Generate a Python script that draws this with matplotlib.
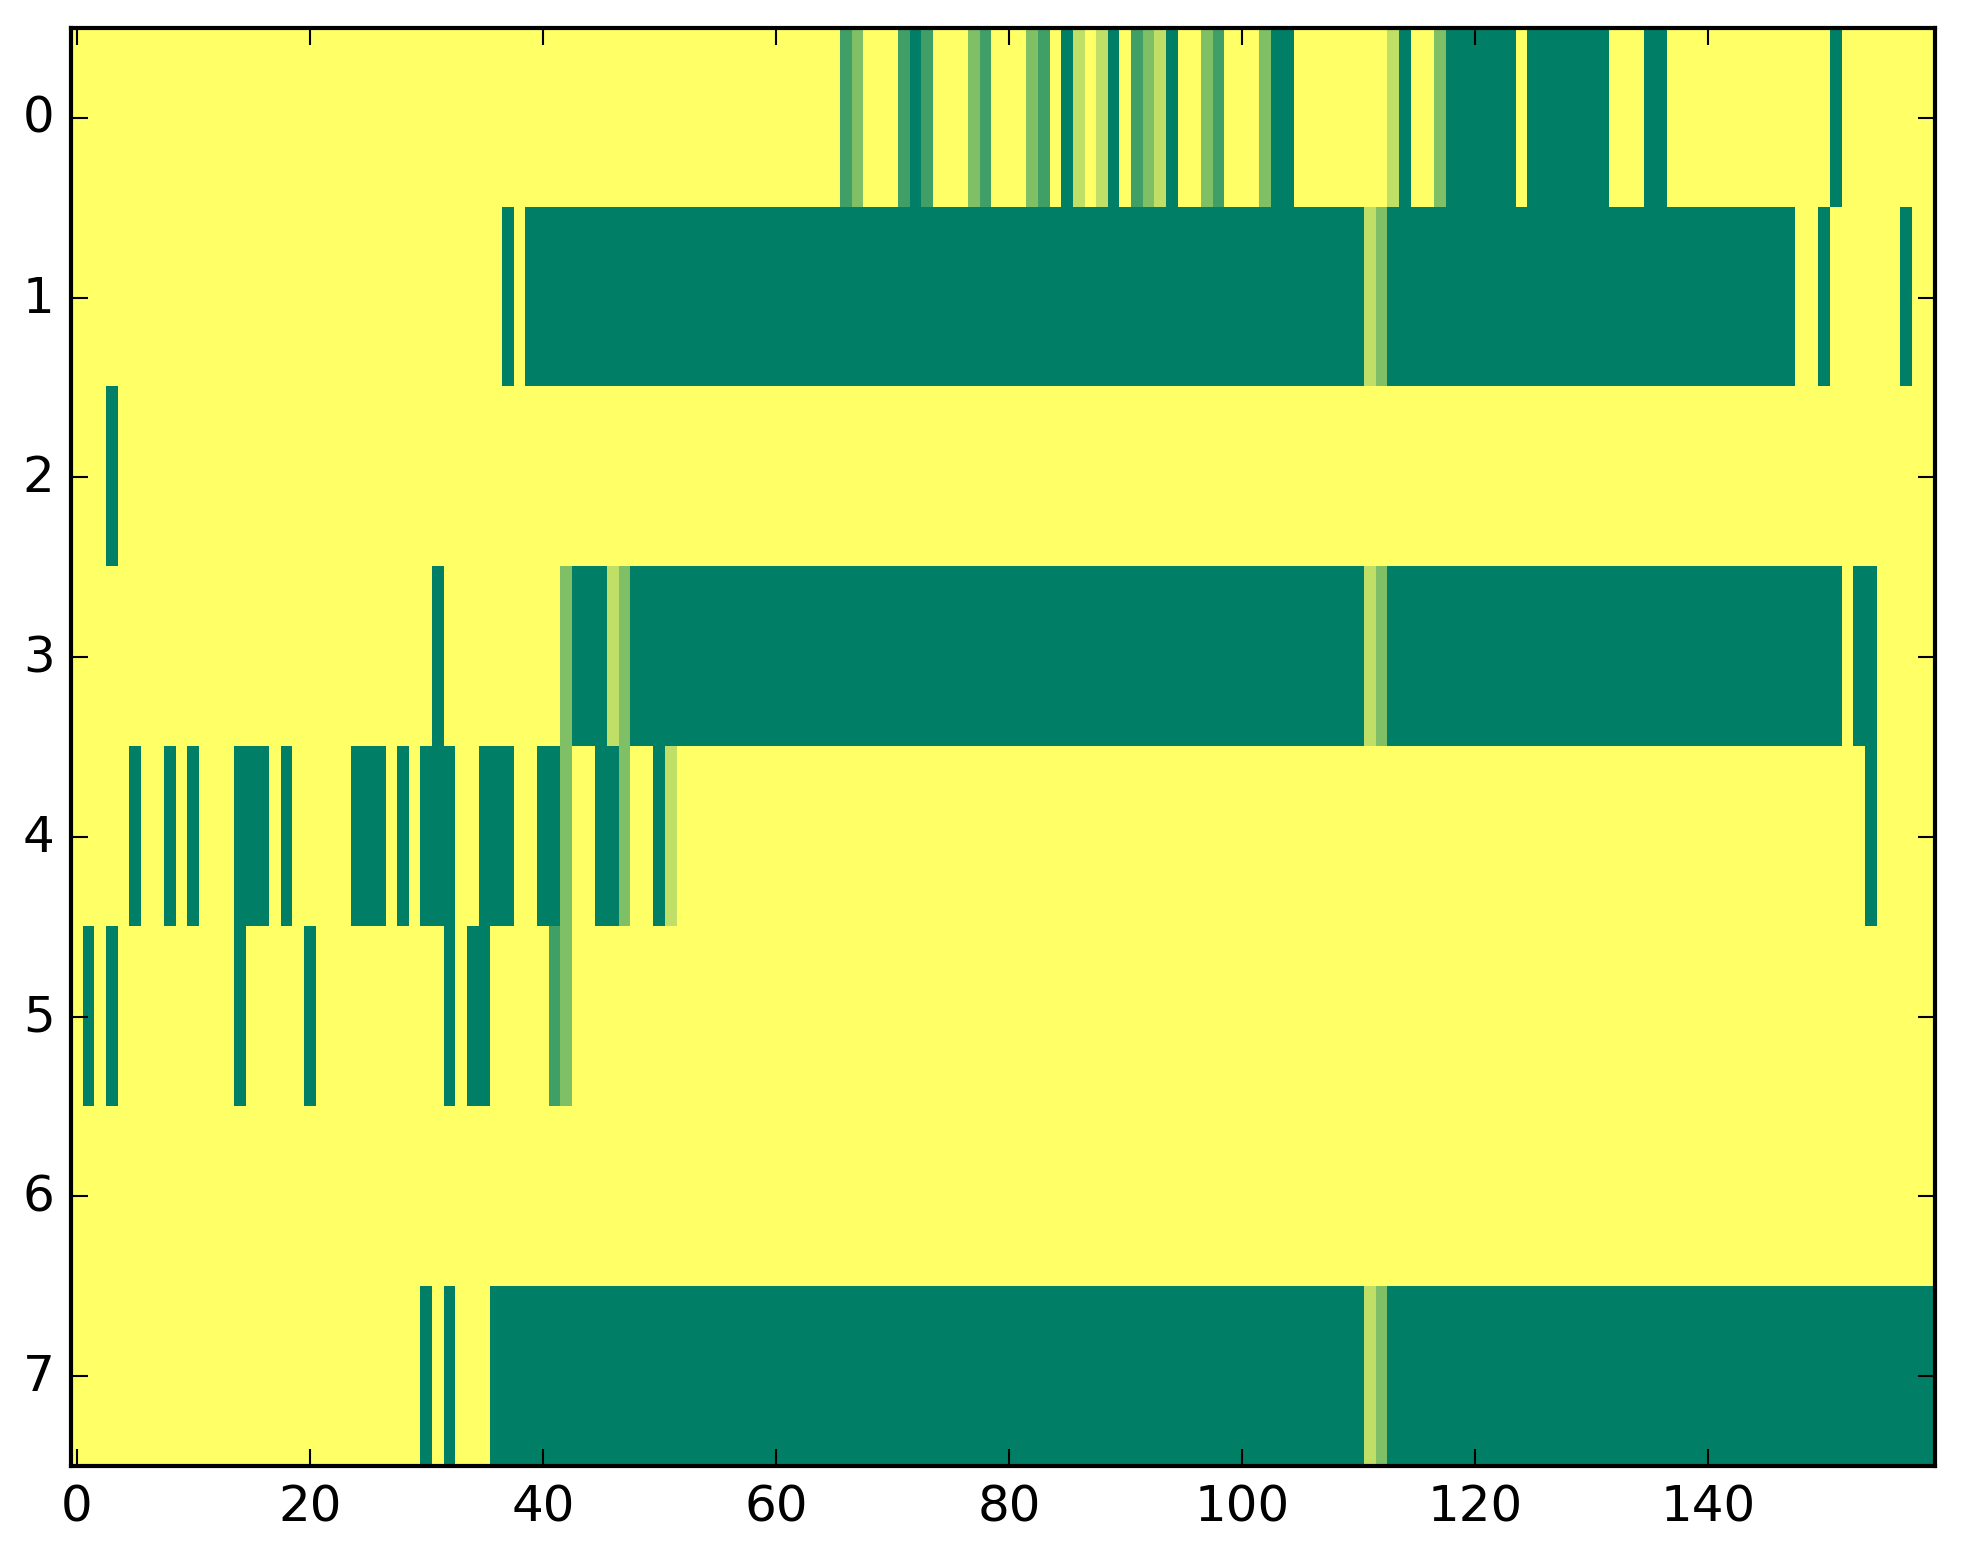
import numpy as np
import matplotlib
matplotlib.use('Agg')
import matplotlib.pyplot as plt

plt.style.use('classic')

# one character per column, value = digit / 4 (groups of 10 columns)
row_0 = ("0000000000 0000000000 0000000000 0000000000 0000000000 0000000000 "
         "0000003200 0343000230 0023041014 0321400230 0024400000 0001400244 "
         "4444044444 4400044000 0000000000 0400000000")
row_1 = ("0000000000 0000000000 0000000000 0000000404 4444444444 4444444444 "
         "4444444444 4444444444 4444444444 4444444444 4444444444 4124444444 "
         "4444444444 4444444444 4444444400 4000000400")
row_2 = ("0004000000 0000000000 0000000000 0000000000 0000000000 0000000000 "
         "0000000000 0000000000 0000000000 0000000000 0000000000 0000000000 "
         "0000000000 0000000000 0000000000 0000000000")
row_3 = ("0000000000 0000000000 0000000000 0400000000 0024441244 4444444444 "
         "4444444444 4444444444 4444444444 4444444444 4444444444 4124444444 "
         "4444444444 4444444444 4444444444 4404400000")
row_4 = ("0000040040 4000444040 0000444040 4440044400 4420044200 4100000000 "
         "0000000000 0000000000 0000000000 0000000000 0000000000 0000000000 "
         "0000000000 0000000000 0000000000 0000400000")
row_5 = ("0404000000 0000400000 4000000000 0040440000 0320000000 0000000000 "
         "0000000000 0000000000 0000000000 0000000000 0000000000 0000000000 "
         "0000000000 0000000000 0000000000 0000000000")
row_6 = ("0000000000 0000000000 0000000000 0000000000 0000000000 0000000000 "
         "0000000000 0000000000 0000000000 0000000000 0000000000 0000000000 "
         "0000000000 0000000000 0000000000 0000000000")
row_7 = ("0000000000 0000000000 0000000000 4040004444 4444444444 4444444444 "
         "4444444444 4444444444 4444444444 4444444444 4444444444 4124444444 "
         "4444444444 4444444444 4444444444 4444444444")

rows = [row_0, row_1, row_2, row_3, row_4, row_5, row_6, row_7]
data = np.array([[int(c) / 4 for c in r.replace(" ", "")] for r in rows])

fig = plt.figure(figsize=(1963 / 300, 1564 / 300), dpi=300)
ax = fig.add_axes([0.0363, 0.062, 0.9494, 0.9195])
ax.imshow(data, cmap='summer_r', vmin=0, vmax=1, aspect='auto',
          interpolation='nearest')

fig.savefig('out.png', dpi=300, facecolor='white')
